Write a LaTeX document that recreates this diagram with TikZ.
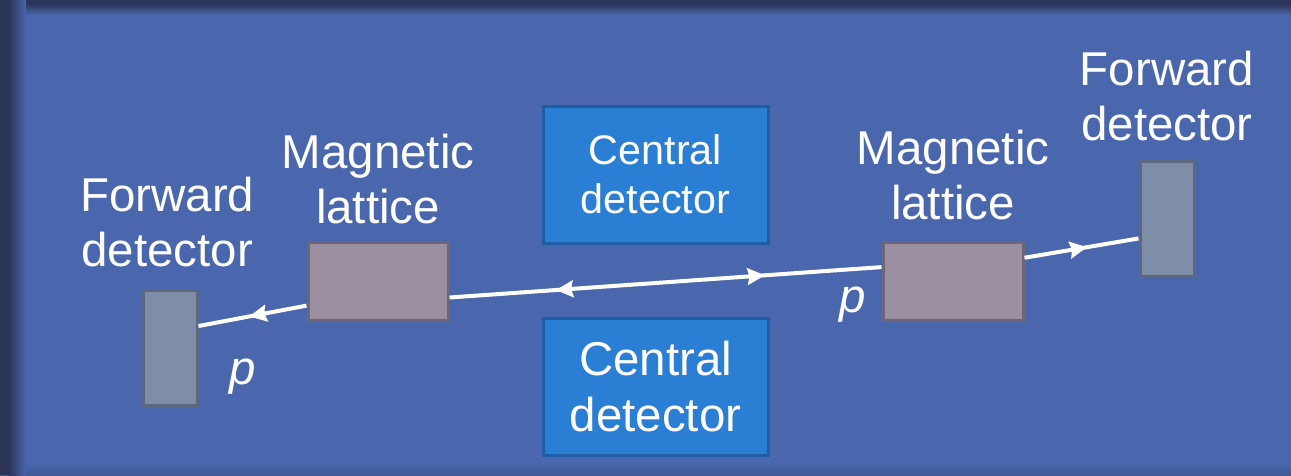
\documentclass[tikz,border=0pt]{standalone}
\usepackage{fontspec}
\setmainfont{Liberation Sans}
\usetikzlibrary{positioning,arrows.meta,decorations.markings}
\definecolor{bgblue}{HTML}{4A66AD}
\definecolor{rimdark}{HTML}{2C3559}
\definecolor{rimsoft}{HTML}{3F5896}
\definecolor{fwdfill}{HTML}{7F8EA8}
\definecolor{fwdedge}{HTML}{5C6780}
\definecolor{latfill}{HTML}{9C8FA2}
\definecolor{latedge}{HTML}{6E6678}
\definecolor{cenfill}{HTML}{2A7FD4}
\definecolor{cenedge}{HTML}{1F5EA5}

\begin{document}
\begin{tikzpicture}[x=0.75pt,y=-0.75pt,>={Stealth[length=13pt,width=12.5pt,inset=1.5pt]}]
\tikzstyle{fwd}=[draw=fwdedge, fill=fwdfill, line width=2.25pt, minimum width=40.5pt, minimum height=86.25pt, inner sep=0pt]
\tikzstyle{lattice}=[draw=latedge, fill=latfill, line width=2.25pt, minimum width=105pt, minimum height=58.5pt, inner sep=0pt]
\tikzstyle{central}=[draw=cenedge, fill=cenfill, line width=2.25pt, minimum width=168.75pt, minimum height=102.75pt, inner sep=0pt, text=white, align=center]
\tikzstyle{label}=[text=white, align=center, inner sep=0pt, font=\fontsize{35.6}{41.5}\selectfont]
\tikzstyle{beam}=[draw=white, line width=3pt, postaction=decorate]

\useasboundingbox (0,0) rectangle (1291,475);
% background with dark rim
\fill[bgblue] (0,0) rectangle (1291,475);
\fill[rimdark] (0,0) rectangle (1291,4);
\shade[top color=rimdark, bottom color=bgblue] (0,4) rectangle (1291,15);
\shade[top color=bgblue, bottom color=rimsoft] (0,463) rectangle (1291,475);
\fill[rimdark] (0,0) rectangle (9,475);
\shade[left color=rimdark, right color=bgblue] (9,0) rectangle (26,475);

% boxes
\draw node at (170,347.5) [fwd] (FwdL) {};
\draw node at (378,281) [lattice] (LatL) {};
\draw node at (655.5,174.5) [central, font=\fontsize{31}{37}\selectfont] (CenT) {Central\\detector};
\draw node at (655.5,386.5) [central, font=\fontsize{35.6}{41.5}\selectfont] (CenB) {Central\\detector};
\draw node at (953,281) [lattice] (LatR) {};
\draw node at (1167,218.5) [fwd] (FwdR) {};

% labels
\draw node [label, above=16pt of FwdL, xshift=-2pt] (FwdLtxt) {Forward\\detector};
\draw node [label, above=12pt of LatL] (LatLtxt) {Magnetic\\lattice};
\draw node [label, above=15pt of LatR] (LatRtxt) {Magnetic\\lattice};
\draw node [label, above=13.5pt of FwdR] (FwdRtxt) {Forward\\detector};
\draw node at (243,377) [label] (pL) {\itshape p};
\draw node at (853,305) [label] (pR) {\itshape p};

% beam
\draw[beam, decoration={markings, mark=at position 0.53 with {\arrow{>}}}]
  (LatL.199.65) -- (FwdL.37.5);
\draw[beam, decoration={markings,
  mark=at position 0.246 with {\arrowreversed{>}},
  mark=at position 0.73 with {\arrow{>}}}]
  (LatL.347) -- (LatR.169.5);
\draw[beam, decoration={markings, mark=at position 0.55 with {\arrow{>}}}]
  (LatR.18.2) -- (FwdR.215.8);
\end{tikzpicture}
\end{document}
